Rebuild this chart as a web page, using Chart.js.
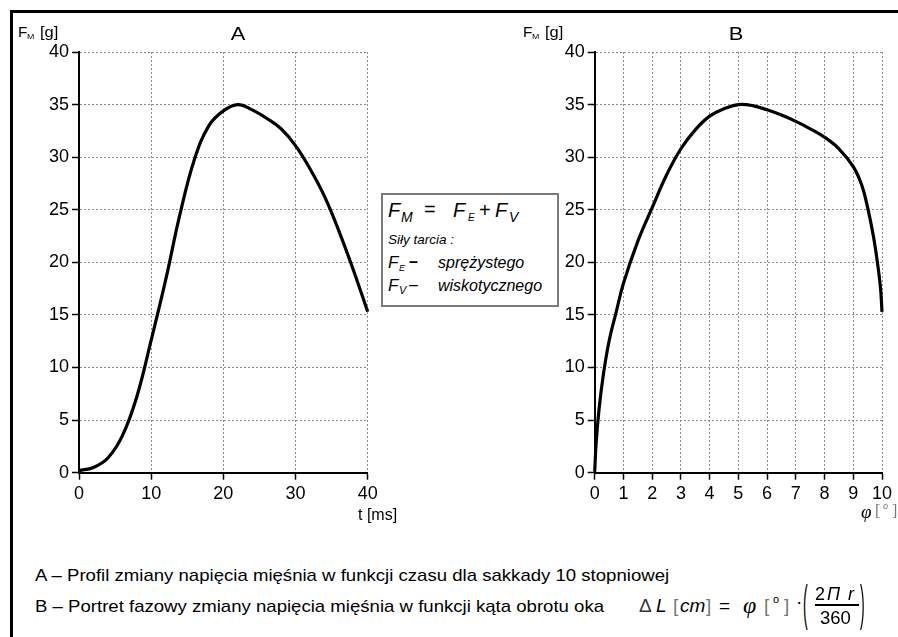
<!DOCTYPE html>
<html>
<head>
<meta charset="utf-8">
<script src="https://cdn.jsdelivr.net/npm/chart.js@4.4.1/dist/chart.umd.min.js"></script>
<style>
  body { margin: 0; background: #fff; font-family: "Liberation Sans", Arial, sans-serif; color: #000; }
  #wrap { position: relative; width: 898px; height: 637px; overflow: hidden; background: #fff; }
  #frame { position: absolute; left: 10px; top: 10px; width: 900px; height: 640px; border-left: 3px solid #000; border-top: 3px solid #000; }
  .t { position: absolute; line-height: 1; white-space: nowrap; }
  .i { font-style: italic; }
  .serif { font-family: "Liberation Serif", "Times New Roman", serif; }
  .grey { color: #777; }
  canvas { position: absolute; top: 0; }
  #box { position: absolute; left: 381px; top: 193px; width: 178px; height: 114px; box-sizing: border-box; border: 2px solid #7a7a7a; background: #fff; }
</style>
</head>
<body>
<div id="wrap">
  <div id="frame"></div>
  <canvas id="chartA" width="450" height="530" style="left:0px"></canvas>
  <canvas id="chartB" width="450" height="530" style="left:448px"></canvas>
  <div id="box"></div>
</div>
<script>
// wykres A: F_M w funkcji czasu
var tA = [0, 2, 4, 6, 8, 10, 12, 14, 16, 18, 20, 22, 24, 26, 28, 30, 32, 34, 36, 38, 40];
var fA = [0.2, 0.5, 1.4, 3.5, 7.2, 12.6, 18.3, 24.6, 29.8, 33.0, 34.4, 35.0, 34.5, 33.7, 32.7, 31.1, 28.9, 26.3, 23.0, 19.3, 15.3];

// wykres B: portret fazowy F_M(phi)
var phiB = [0, 0.05, 0.15, 0.3, 0.5, 0.75, 1.0, 1.5, 2.0, 2.5, 3.0, 3.5, 4.0, 4.5, 5.0, 5.5, 6.0, 6.5, 7.0, 7.5, 8.0, 8.5, 9.0, 9.3, 9.5, 9.7, 9.85, 9.95, 10];
var fB = [0.1, 2.8, 6.0, 9.3, 12.5, 15.3, 18.0, 22.0, 25.2, 28.3, 30.8, 32.6, 33.9, 34.6, 35.0, 34.9, 34.5, 34.0, 33.4, 32.7, 31.9, 30.8, 29.1, 27.3, 25.2, 22.5, 19.8, 17.5, 15.3];

var yTicks = [0, 5, 10, 15, 20, 25, 30, 35, 40];
var xTicksA = [0, 10, 20, 30, 40];
var xTicksB = [0, 1, 2, 3, 4, 5, 6, 7, 8, 9, 10];

var tickFont = { family: 'Liberation Sans', size: 18 };

function makeChart(id, xs, ys, xTicks, leftW, padRight) {
  var pts = [];
  for (var i = 0; i < xs.length; i++) pts.push({ x: xs[i], y: ys[i] });
  var ax = function (ticks) {
    return {
      type: 'linear',
      min: ticks[0],
      max: ticks[ticks.length - 1],
      afterBuildTicks: function (s) { s.ticks = ticks.map(function (v) { return { value: v }; }); },
      ticks: { font: tickFont, color: '#000', padding: 3, maxRotation: 0, autoSkip: false },
      grid: { color: '#8c8c8c', lineWidth: 1, tickLength: 7, tickColor: '#000', tickWidth: 1.5, tickBorderDash: [] },
      border: { color: '#000', width: 2, dash: [2, 2] }
    };
  };
  var x = ax(xTicks);
  x.ticks.padding = 4;
  x.afterFit = function (s) { s.height = 40; };
  var y = ax(yTicks);
  y.afterFit = function (s) { s.width = leftW; };
  return new Chart(document.getElementById(id), {
    type: 'line',
    data: {
      datasets: [{
        data: pts,
        borderColor: '#000',
        borderWidth: 3.2,
        pointRadius: 0,
        fill: false,
        tension: 0.4,
        clip: false
      }]
    },
    options: {
      responsive: false,
      animation: false,
      layout: { padding: { left: 0, top: 52, right: padRight, bottom: 17.3 } },
      plugins: { legend: { display: false }, tooltip: { enabled: false }, title: { display: false } },
      scales: { x: x, y: y }
    }
  });
}

makeChart('chartA', tA, fA, xTicksA, 79, 82.3);
makeChart('chartB', phiB, fB, xTicksB, 146.7, 16);

var wrap = document.getElementById('wrap');
function txt(html, x, base, size, cls, extra) {
  var d = document.createElement('div');
  d.className = 't ' + (cls || '');
  d.innerHTML = html;
  d.style.left = x + 'px';
  d.style.top = (base - 0.85 * size) + 'px';
  d.style.fontSize = size + 'px';
  if (extra) for (var k in extra) d.style[k] = extra[k];
  wrap.appendChild(d);
  return d;
}
var wide = function (k) { return { transform: 'scaleX(' + k + ')', transformOrigin: '0 0' }; };

// osie i tytuly
[18, 523].forEach(function (x0) {
  txt('F', x0, 36.7, 14, '', wide(1.1));
  txt('M', x0 + 9, 39.5, 8, '', wide(1.1));
  txt('[g]', x0 + 22, 36.7, 15, '', wide(1.1));
});
txt('A', 238, 40, 19, '', { transform: 'translateX(-50%) scaleX(1.15)' });
txt('B', 736, 40, 19, '', { transform: 'translateX(-50%) scaleX(1.15)' });
txt('t [ms]', 358, 521, 16);
txt('φ', 861, 518, 19, 'i serif');
txt('[', 875, 517, 16, 'serif grey');
txt('o', 883, 510, 9, 'i grey');
txt(']', 892, 517, 16, 'serif grey');

// ramka z rownaniem
txt('F', 388, 217, 20, 'i');
txt('M', 401, 221.5, 14, 'i');
txt('=', 424, 216, 20);
txt('F', 453, 217, 20, 'i');
txt('E', 468, 221, 10, 'i');
txt('+', 479, 217, 20);
txt('F', 495, 217, 20, 'i');
txt('V', 509, 221.5, 14, 'i');
txt('Siły tarcia :', 388, 244, 13.5, 'i');
txt('F', 388, 268.5, 17, 'i');
txt('E', 399, 271.5, 9, 'i');
txt('–', 409, 268, 16, '', { fontWeight: 'bold' });
txt('sprężystego', 438, 268.5, 16, 'i');
txt('F', 388, 291.5, 17, 'i');
txt('V', 399, 294, 11, 'i');
txt('–', 409, 291, 16);
txt('wiskotycznego', 438, 291.5, 16, 'i');

// podpisy
txt('A – Profil zmiany napięcia mięśnia w funkcji czasu dla sakkady 10 stopniowej', 35, 581.7, 17, '', wide(1.093));
txt('B – Portret fazowy zmiany napięcia mięśnia w funkcji kąta obrotu oka', 35, 612.7, 17, '', wide(1.093));

// wzor Delta L
txt('Δ', 639, 611.7, 19, '', { color: '#333' });
txt('L', 656, 611.7, 19, 'i');
txt('[', 673, 611.7, 19, 'grey');
txt('cm', 680, 611.7, 19, 'i');
txt(']', 706, 611.7, 19, 'grey');
txt('=', 719, 611.7, 19);
txt('φ', 743, 613, 24, 'i serif');
txt('[', 764, 611.7, 19, 'grey');
txt('o', 773, 603, 11);
txt(']', 784, 611.7, 19, 'grey');
txt('·', 796, 608, 19);
txt('(', 803, 612, 20, '', { transform: 'scale(0.7,2.5)', transformOrigin: '0 60%' });
txt(')', 860, 612, 20, '', { transform: 'scale(0.7,2.5)', transformOrigin: '0 60%' });
txt('2', 815, 600, 18);
txt('Π', 827, 600, 18, 'i');
txt('r', 848, 600, 18, 'i');
txt('360', 820, 625, 18.5);
var bar = document.createElement('div');
bar.style.cssText = 'position:absolute;left:815px;top:604px;width:44px;height:1.6px;background:#000';
wrap.appendChild(bar);
</script>
</body>
</html>
